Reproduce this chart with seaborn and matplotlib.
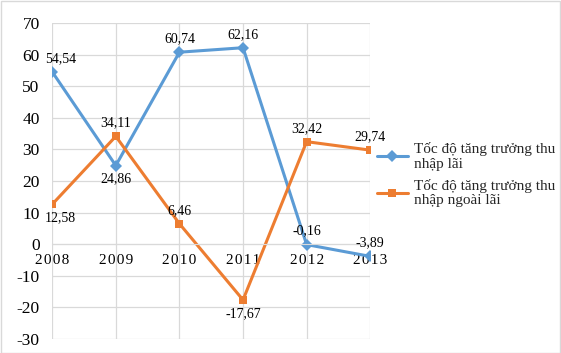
import pandas as pd
import matplotlib.pyplot as plt
import seaborn as sns
from matplotlib.patches import Rectangle

years = [2008, 2009, 2010, 2011, 2012, 2013]
lai = [54.54, 24.86, 60.74, 62.16, -0.16, -3.89]
ngoai_lai = [12.58, 34.11, 6.46, -17.67, 32.42, 29.74]
series_names = ["Tốc độ tăng trưởng thu\nnhập lãi", "Tốc độ tăng trưởng thu\nnhập ngoài lãi"]
colors = ["#5B9BD5", "#ED7D31"]
# label placement: 1 = above the point, -1 = below
lai_pos = [1, -1, 1, 1, 1, 1]
ngoai_pos = [-1, 1, 1, -1, 1, 1]

df = pd.DataFrame({
    "year": years * 2,
    "value": lai + ngoai_lai,
    "series": [series_names[0]] * len(years) + [series_names[1]] * len(years),
})

sns.set_style("white")
plt.rcParams["font.family"] = ["Liberation Serif", "DejaVu Serif"]
plt.rcParams["axes.unicode_minus"] = False

fig = plt.figure(figsize=(5.61, 3.53), dpi=100)
ax = fig.add_axes([0.093, 0.040, 0.567, 0.895])

sns.lineplot(data=df, x="year", y="value", hue="series", style="series",
             markers=["D", "s"], dashes=False, palette=colors, linewidth=2.2,
             markersize=6, markeredgewidth=0, ax=ax)

for vals, pos in [(lai, lai_pos), (ngoai_lai, ngoai_pos)]:
    for i, (x, y, p) in enumerate(zip(years, vals, pos)):
        dx = 6 if i == 0 else 0  # first labels are pushed inside the plot area
        ax.annotate(f"{y:.2f}".replace(".", ","), (x, y), xytext=(dx, 5 * p),
                    textcoords="offset points", ha="center",
                    va="bottom" if p > 0 else "top", fontsize=10, color="#000000")

ax.set_xlim(2008, 2013)
ax.set_ylim(-30, 70)
ax.set_yticks(range(-30, 71, 10))
ax.set_xticks(years)
# excel draws these year labels slightly letter-spaced
ax.set_xticklabels(["\u200a".join(str(y)) for y in years])
ax.grid(True, color="#d9d9d9", linewidth=0.9)
ax.set_axisbelow(True)
for s in ["top", "right", "left"]:
    ax.spines[s].set_visible(False)
ax.spines["bottom"].set_position(("data", 0))
ax.spines["bottom"].set_color("#d9d9d9")
ax.tick_params(axis="both", length=0, colors="#000000")
ax.tick_params(axis="x", pad=7, labelsize=11)
ax.tick_params(axis="y", pad=9, labelsize=12.5)
ax.set_xlabel("")
ax.set_ylabel("")

leg = ax.legend(loc="center left", bbox_to_anchor=(0.672, 0.505), bbox_transform=fig.transFigure,
                frameon=False, fontsize=11, handlelength=2.0, handletextpad=0.4,
                labelspacing=0.55, borderaxespad=0, borderpad=0)
for t in leg.get_texts():
    t.set_linespacing(1.15)

fig.patches.append(Rectangle((0.001, 0.001), 0.997, 0.997, transform=fig.transFigure,
                             fill=False, edgecolor="#d9d9d9", linewidth=1))
fig.savefig("out.png", dpi=100)
